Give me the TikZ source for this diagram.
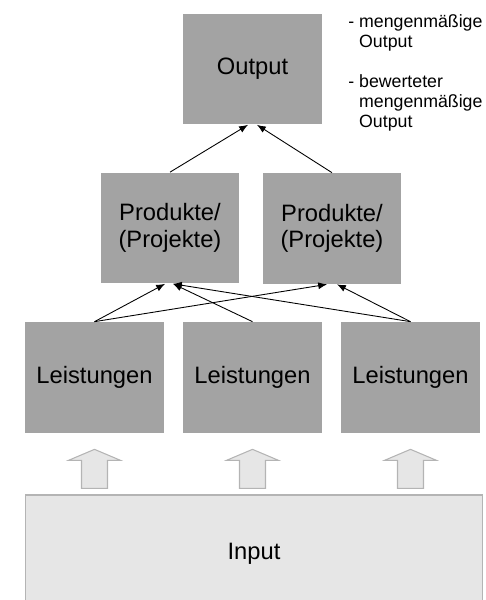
\documentclass[tikz,border=0pt]{standalone}
\usepackage{fontspec}
\setmainfont{Liberation Sans}
\usetikzlibrary{arrows.meta}
\definecolor{boxgrau}{HTML}{A3A3A3}
\definecolor{hellgrau}{HTML}{E6E6E6}
\definecolor{randgrau}{HTML}{B4B4B4}

\begin{document}
\begin{tikzpicture}[x=0.02cm, y=-0.02cm,
        kasten/.style={fill=boxgrau, minimum width=2.78cm, minimum height=2.22cm, inner sep=0pt, align=center, font=\fontsize{13.5}{15}\selectfont},
        pfeil/.style={-{Latex[length=5pt,width=4pt]}, line width=0.5pt},
        blockpfeil/.style={fill=hellgrau, draw=randgrau, line width=0.6pt},
        notiz/.style={anchor=north west, inner sep=0pt, align=left, font=\fontsize{10.1}{11.5}\selectfont}]
        \useasboundingbox (0,0) rectangle (485,600);

        % Ebenen
        \node[kasten] (out) at (252.5,69) {Output};
        \node[kasten] (p1) at (170,228) {Produkte/\\(Projekte)};
        \node[kasten] (p2) at (332,228.5) {Produkte/\\(Projekte)};
        \node[kasten] (l1) at (94.5,377.5) {Leistungen};
        \node[kasten] (l2) at (252.5,377.5) {Leistungen};
        \node[kasten] (l3) at (410.5,377.5) {Leistungen};
        \node[fill=hellgrau, draw=randgrau, line width=0.6pt, minimum width=9.16cm, minimum height=2.12cm,
              text height=0.54cm, text depth=0.1cm, font=\fontsize{13.5}{15}\selectfont] (in) at (254,548) {Input};

        % Notizen
        \node[notiz] (n1) at (348,14) {-~mengenmäßige\\\phantom{-~}Output};
        \node[notiz] (n2) at (348,74) {-~bewerteter\\\phantom{-~}mengenmäßige\\\phantom{-~}Output};

        % Verbindungen
        \draw[pfeil] (p1.north) -- ([xshift=-0.09cm]out.south);
        \draw[pfeil] (p2.north) -- ([xshift=0.09cm]out.south);
        \draw[pfeil] (l1.north) -- ([xshift=-0.1cm]p1.south);
        \draw[pfeil] (l1.north) -- ([xshift=-0.1cm]p2.south);
        \draw[pfeil] (l2.north) -- ([xshift=0.06cm]p1.south);
        \draw[pfeil] (l3.north) -- ([xshift=0.06cm]p1.south);
        \draw[pfeil] (l3.north) -- ([xshift=0.1cm]p2.south);

        % Input-Pfeile
        \foreach \n in {l1,l2,l3}
            \draw[blockpfeil] ([yshift=-0.32cm]\n.south) -- ++(26,11) -- ++(-13,0) -- ++(0,28)
                -- ++(-26,0) -- ++(0,-28) -- ++(-13,0) -- cycle;
    \end{tikzpicture}
\end{document}
